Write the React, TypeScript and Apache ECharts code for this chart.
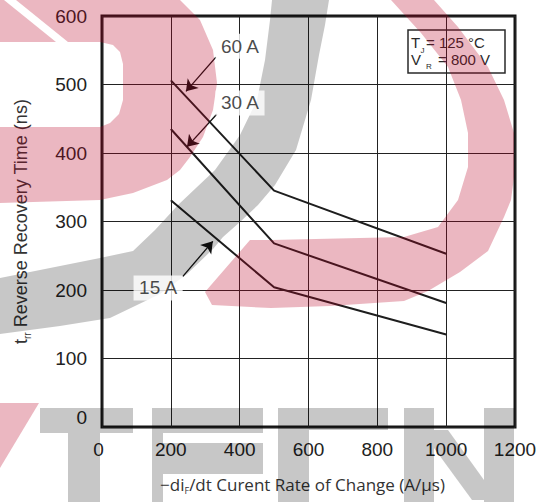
import React, { useEffect, useRef } from 'react';
import * as echarts from 'echarts';

// -di/dt (A/µs) at which each curve is sampled
const diDt = [200, 500, 1000];
// reverse recovery time t_rr (ns) per forward current
const trr60A = [506, 345, 253];
const trr30A = [435, 268, 181];
const trr15A = [331, 204, 135];

// axis ticks
const xTicks = [0, 200, 400, 600, 800, 1000, 1200];
const yTicks = [0, 100, 200, 300, 400, 500, 600];

// curve callouts (data coordinates)
const calloutText = ['60 A', '30 A', '15 A'];
const calloutAt = [
  [401, 556],
  [401, 473],
  [163, 203],
];
const arrowFrom = [
  [331, 540],
  [334, 457],
  [235, 220],
];
const arrowTo = [
  [244, 490],
  [247, 409],
  [322, 271],
];

const FONT = '"Liberation Sans", Arial, Helvetica, sans-serif';
const TITLE_FONT = '"Open Sans", "Noto Sans", sans-serif';
// translucent tints laid over the finished plot
const PINK = 'rgba(184, 0, 35, 0.282)';
const GREY = 'rgba(0, 0, 0, 0.22)';
const INK = '#1e1e1e';
const TINT_Z = 1000;

type Pt = [number, number];
const poly = (points: Pt[], fill: string) => ({
  type: 'polygon',
  z: TINT_Z,
  silent: true,
  shape: { points },
  style: { fill },
});
const box = (x: number, y: number, w: number, h: number, fill: string) => ({
  type: 'rect',
  z: TINT_Z,
  silent: true,
  shape: { x, y, width: w, height: h },
  style: { fill },
});

// logo mark tinted over the page (pieces do not overlap)
const backdrop = [
  // left swirl, split by a thin white streak
  poly([[0, 0], [4, 0], [56, 42], [0, 42]], PINK),
  poly(
    [
      [16, 0], [180, 0], [200, 20], [213, 50], [217, 83], [213, 110], [203, 137],
      [190, 157], [180, 170], [167, 180], [133, 193], [100, 200], [0, 203],
      [0, 127], [100, 127], [110, 123], [119, 114], [123, 100], [123, 64],
      [120, 52], [113, 45], [100, 42], [68, 42],
    ],
    PINK
  ),
  // grey sweep
  poly(
    [
      [272, 0], [270, 20], [265, 60], [257, 100], [240, 135], [215, 170], [178, 205],
      [155, 230], [133, 251], [100, 258], [50, 268], [0, 278],
      [0, 334], [60, 326], [110, 318], [160, 294], [187, 274], [213, 249], [223, 237],
      [240, 222], [258, 205], [275, 185], [296, 150], [311, 100], [319, 55], [325, 25], [329, 0],
    ],
    GREY
  ),
  // right arc
  poly(
    [
      [434, 0], [458, 27], [488, 67], [504, 100], [514, 133], [514, 177], [511, 200],
      [504, 217], [488, 251], [460, 272], [428, 291], [404, 301], [330, 306], [271, 308],
      [212, 305], [205, 292], [250, 240], [271, 240], [404, 237], [438, 227], [458, 200],
      [468, 167], [468, 133], [461, 100], [448, 67], [421, 33], [391, 0],
    ],
    PINK
  ),
  // lettering along the bottom
  poly([[0, 403], [39, 403], [0, 468]], PINK),
  box(40, 408, 93, 25, GREY),
  box(68, 433, 32, 69, GREY),
  box(152, 408, 111, 25, GREY),
  box(152, 433, 11, 10, GREY),
  box(152, 443, 111, 31, GREY),
  box(152, 474, 11, 28, GREY),
  box(278, 408, 110, 22, GREY),
  box(278, 430, 31, 72, GREY),
  box(404, 408, 30, 94, GREY),
  box(484, 408, 30, 94, GREY),
  poly([[434, 430], [448, 430], [484, 480], [484, 500], [472, 500], [434, 448]], GREY),
];

// test-condition box
const condText = (text: string, x: number, y: number, size: number) => ({
  type: 'text',
  x,
  y,
  style: { text, fontSize: size, fontFamily: FONT, fill: '#2a2a2a', verticalAlign: 'middle' },
});
const conditions = {
  type: 'group',
  z: 20,
  silent: true,
  children: [
    {
      type: 'rect',
      shape: { x: 408, y: 30, width: 97, height: 43 },
      style: { fill: 'none', stroke: '#2a2a2a', lineWidth: 1.5 },
    },
    condText('T', 411, 42.5, 15),
    condText('J', 420.5, 50, 8),
    condText('= 125 °C', 426, 42.5, 15),
    condText('V', 411, 59.5, 15),
    condText('R', 426, 66, 8),
    condText('= 800 V', 438, 59.5, 15),
  ],
};

const curve = (values: number[]) => ({
  type: 'line',
  data: diDt.map((x, i) => [x, values[i]]),
  symbol: 'none',
  lineStyle: { color: INK, width: 2 },
  z: 3,
});

export default function App() {
  const ref = useRef<HTMLDivElement>(null);

  useEffect(() => {
    if (!ref.current) return;
    const chart = echarts.init(ref.current, undefined, { renderer: 'svg' });

    const option: any = {
      animation: false,
      backgroundColor: '#ffffff',
      textStyle: { fontFamily: FONT },
      grid: {
        left: 102,
        right: 28,
        top: 16,
        bottom: 75,
        show: true,
        borderColor: '#141414',
        borderWidth: 3,
        backgroundColor: 'transparent',
        containLabel: false,
        outerBoundsMode: 'none',
      },
      xAxis: {
        type: 'value',
        min: xTicks[0],
        max: xTicks[xTicks.length - 1],
        interval: xTicks[1] - xTicks[0],
        axisLine: { show: false },
        axisTick: { show: false },
        splitLine: { show: true, lineStyle: { color: '#222', width: 1 } },
        axisLabel: {
          fontSize: 19,
          color: '#222',
          fontFamily: FONT,
          margin: 13,
          formatter: (v: number) => (v === 0 ? '{z|0}' : String(v)),
          rich: {
            z: { fontSize: 19, color: '#222', fontFamily: FONT, padding: [0, 7, 0, 0] },
          },
        },
        name: '−di{s|F}/dt Curent Rate of Change (A/µs)',
        nameLocation: 'middle',
        nameGap: 46,
        nameTextStyle: {
          padding: [0, 12, 0, 0],
          rich: {
            s: { fontSize: 9, color: '#333', fontFamily: TITLE_FONT, lineHeight: 8, padding: [16, 0, 0, 0], verticalAlign: 'bottom' },
          },
          fontSize: 17,
          color: '#333',
          fontFamily: TITLE_FONT,
          lineHeight: 22,
          verticalAlign: 'top',
        },
      },
      yAxis: {
        type: 'value',
        min: yTicks[0],
        max: yTicks[yTicks.length - 1],
        interval: yTicks[1] - yTicks[0],
        axisLine: { show: false },
        axisTick: { show: false },
        splitLine: { show: true, lineStyle: { color: '#222', width: 1 } },
        axisLabel: {
          fontSize: 19,
          color: '#222',
          fontFamily: FONT,
          margin: 15,
          formatter: (v: number) => (v === 0 ? '{z|0}' : String(v)),
          rich: {
            z: { fontSize: 19, color: '#222', fontFamily: FONT, padding: [0, 0, 20, 0] },
          },
        },
        name: '{t|t}{s|rr}{t| Reverse Recovery Time (ns)}',
        nameLocation: 'middle',
        nameRotate: 90,
        nameGap: 70,
        nameTextStyle: {
          rich: {
            t: { fontSize: 18, color: '#333', fontFamily: FONT, lineHeight: 20, verticalAlign: 'top' },
            s: { fontSize: 10, color: '#333', fontFamily: FONT, lineHeight: 8, padding: [16, 0, 0, 0], verticalAlign: 'bottom' },
          },
        },
      },
      graphic: { elements: [...backdrop, conditions] },
      series: [
        curve(trr60A),
        curve(trr30A),
        curve(trr15A),
        {
          type: 'lines',
          coordinateSystem: 'cartesian2d',
          silent: true,
          symbol: ['none', 'arrow'],
          symbolSize: 11,
          z: 4,
          lineStyle: { width: 1.3, opacity: 1, curveness: 0 },
          data: arrowFrom.map((from, i) => ({
            coords: [from, arrowTo[i]],
            lineStyle: { color: '#111111', width: 1.3, opacity: 1 },
          })),
        },
        {
          type: 'scatter',
          silent: true,
          symbolSize: 1,
          itemStyle: { color: 'rgba(0,0,0,0)' },
          z: TINT_Z + 10,
          data: calloutAt.map((p) => p),
          label: {
            show: true,
            position: 'inside',
            formatter: (p: any) => calloutText[p.dataIndex],
            fontSize: 19,
            fontFamily: FONT,
            color: '#1a1a1a',
            backgroundColor: '#ffffff',
            padding: [3, 5],
          },
        },
      ],
    };

    chart.setOption(option);
    return () => chart.dispose();
  }, []);

  return (
    <div
      ref={ref}
      style={{ position: 'fixed', left: 0, top: 0, width: 543, height: 502 }}
    />
  );
}
